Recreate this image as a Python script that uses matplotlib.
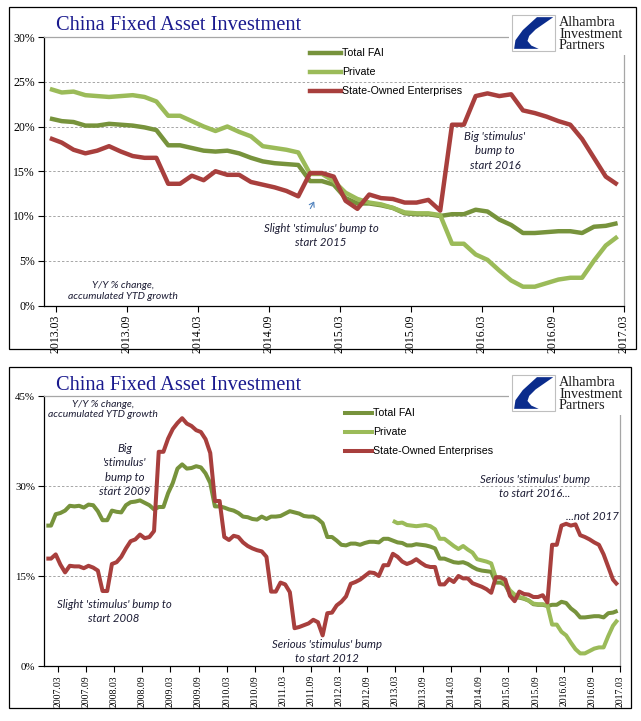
import matplotlib
matplotlib.use('Agg')
import matplotlib.pyplot as plt
from matplotlib.lines import Line2D
from matplotlib.patches import Rectangle, Polygon, FancyArrowPatch

W, H = 641, 721

# Y/Y % change, accumulated YTD growth
# monthly values Mar 2013 .. Mar 2017 (both charts)
recent_start = (2013, 3)
total_fai_recent = [20.9, 20.6, 20.5, 20.1, 20.1, 20.3, 20.2, 20.1, 19.9, 19.6,
                    17.9, 17.9, 17.6, 17.3, 17.2, 17.3, 17.0, 16.5, 16.1, 15.9, 15.8, 15.7,
                    13.9, 13.9, 13.5, 12.0, 11.4, 11.4, 11.2, 10.9, 10.3, 10.2, 10.2, 10.0,
                    10.2, 10.2, 10.7, 10.5, 9.6, 9.0, 8.1, 8.1, 8.2, 8.3, 8.3, 8.1,
                    8.8, 8.9, 9.2]
private_recent = [24.2, 23.8, 23.9, 23.5, 23.4, 23.3, 23.4, 23.5, 23.3, 22.8,
                  21.2, 21.2, 20.6, 20.0, 19.5, 20.0, 19.4, 18.9, 17.8, 17.6, 17.4, 17.1,
                  14.7, 14.7, 13.9, 12.6, 11.9, 11.5, 11.3, 10.9, 10.4, 10.3, 10.3, 10.1,
                  6.9, 6.9, 5.7, 5.1, 3.9, 2.8, 2.1, 2.1, 2.5, 2.9, 3.1, 3.1,
                  5.0, 6.7, 7.7]
soe_recent = [18.7, 18.2, 17.4, 17.0, 17.3, 17.8, 17.2, 16.7, 16.5, 16.5,
              13.6, 13.6, 14.5, 14.0, 15.0, 14.6, 14.6, 13.8, 13.5, 13.2, 12.8, 12.2,
              14.8, 14.8, 14.4, 11.7, 10.8, 12.4, 12.0, 11.9, 11.5, 11.5, 11.8, 10.6,
              20.2, 20.2, 23.4, 23.7, 23.4, 23.6, 21.8, 21.5, 21.1, 20.6, 20.2, 18.6,
              16.5, 14.4, 13.5]

# monthly values Jan 2007 .. Feb 2013 (long chart only)
early_start = (2007, 1)
total_fai_early = [23.4, 23.4, 25.3, 25.5, 25.9, 26.7, 26.6, 26.7, 26.4, 26.9, 26.8, 25.8,
                   24.3, 24.3, 25.9, 25.7, 25.6, 26.8, 27.3, 27.4, 27.6, 27.2, 26.8, 26.1,
                   26.5, 26.5, 28.8, 30.5, 32.9, 33.6, 32.9, 33.0, 33.3, 33.1, 32.1, 30.5,
                   26.6, 26.6, 26.4, 26.1, 25.9, 25.5, 24.9, 24.8, 24.5, 24.4, 24.9, 24.5,
                   24.9, 24.9, 25.0, 25.4, 25.8, 25.6, 25.4, 25.0, 24.9, 24.9, 24.5, 23.8,
                   21.5, 21.5, 20.9, 20.2, 20.1, 20.4, 20.4, 20.2, 20.5, 20.7, 20.7, 20.6,
                   21.2, 21.2]
soe_early = [17.9, 17.9, 18.6, 16.9, 15.6, 16.7, 16.6, 16.6, 16.3, 16.7, 16.4, 15.9,
             12.5, 12.5, 17.0, 17.3, 18.2, 19.6, 20.8, 21.1, 21.9, 21.3, 21.5, 22.5,
             35.7, 35.7, 37.9, 39.5, 40.5, 41.3, 40.4, 40.0, 39.3, 39.0, 37.8, 35.5,
             27.5, 27.5, 21.5, 21.0, 21.7, 21.5, 20.6, 20.0, 19.6, 19.3, 19.1, 18.2,
             12.4, 12.4, 13.9, 13.6, 12.3, 6.3, 6.5, 6.8, 7.1, 7.7, 7.3, 5.1,
             8.8, 8.9, 10.1, 10.7, 11.6, 13.7, 14.0, 14.4, 15.0, 15.6, 15.5, 15.0,
             16.8, 16.8]

top_tick_labels = ['2013.03', '2013.09', '2014.03', '2014.09', '2015.03',
                   '2015.09', '2016.03', '2016.09', '2017.03']
bottom_tick_labels = ['2007.03', '2007.09', '2008.03', '2008.09', '2009.03', '2009.09',
                      '2010.03', '2010.09', '2011.03', '2011.09', '2012.03', '2012.09',
                      '2013.03', '2013.09', '2014.03', '2014.09', '2015.03', '2015.09',
                      '2016.03', '2016.09', '2017.03']
top_yticks = [0, 5, 10, 15, 20, 25, 30]
bottom_yticks = [0, 15, 30, 45]

series_names = ['Total FAI', 'Private', 'State-Owned Enterprises']
series_colors = ['#77933C', '#9BBB59', '#A83F3D']

TITLE = 'China Fixed Asset Investment'
NOTE_COLOR = '#1c1c34'
SERIF = ['Liberation Serif', 'DejaVu Serif']
SANS = ['Liberation Sans', 'DejaVu Sans']
ITAL = ['Lato', 'DejaVu Sans']


def month_num(year, month):
    return year * 12 + (month - 1)


def label_month(label):
    y, m = label.split('.')
    return month_num(int(y), int(m))


def xs_for(start, values):
    # points sit half a month before the tick of their month
    m0 = month_num(*start)
    return [m0 + i - 0.5 for i in range(len(values))]


def fx(x):
    return x / W


def fy(y):
    return 1 - y / H


def rect(fig, x0, y0, x1, y1, **kw):
    r = Rectangle((fx(x0), fy(y1)), (x1 - x0) / W, (y1 - y0) / H,
                  transform=fig.transFigure, **kw)
    fig.patches.append(r)
    return r


def px_axes(fig, left, top, right, bottom):
    return fig.add_axes([fx(left), fy(bottom), (right - left) / W, (bottom - top) / H])


def note(fig, x, y, s, size=8.2, ls=1.3):
    fig.text(fx(x), fy(y), s, ha='center', va='center', fontsize=size,
             style='italic', color=NOTE_COLOR, family=ITAL, linespacing=ls)


def draw_logo(fig, top, right):
    # white backing of the logo picture hides the plot border
    rect(fig, 509, top - 6, right - 1.5, top + 40, facecolor='white', edgecolor='none', zorder=5)
    bx0, bx1, by0, by1 = 512, 555, top, top + 36
    rect(fig, bx0, by0, bx1, by1, facecolor='white', edgecolor='#BFBFBF', lw=0.8, zorder=6)
    bw, bh = bx1 - bx0, by1 - by0
    shape = [(0.58, 0.06), (0.96, 0.06), (0.55, 0.40), (0.40, 0.58), (0.36, 0.72),
             (0.45, 0.85), (0.62, 0.94), (0.05, 0.94), (0.08, 0.70), (0.25, 0.42)]
    pts = [(fx(bx0 + u * bw), fy(by0 + v * bh)) for u, v in shape]
    fig.patches.append(Polygon(pts, closed=True, facecolor='#0B2C8C', edgecolor='none',
                               transform=fig.transFigure, zorder=7))
    for k, word in enumerate(['Alhambra', 'Investment', 'Partners']):
        fig.text(fx(559), fy(top + 11 + k * 11.5), word, ha='left', va='baseline',
                 fontsize=10.3, family=SERIF, color='#1e1e1e', zorder=8)


def draw_panel(fig, box, ax_box, yticks, tick_labels, xlim, series, lw,
               xfs, yfs, legend_x, legend_rows):
    x0, y0, x1, y1 = box
    rect(fig, x0, y0, x1, y1, facecolor='none', edgecolor='black', lw=0.9, zorder=1)
    fig.text(fx(56), fy(y0 + 23), TITLE, ha='left', va='baseline', fontsize=14.7,
             family=SERIF, color='#1A1A8E')

    ax = px_axes(fig, *ax_box)
    for (xs, ys), c in zip(series, series_colors):
        ax.plot(xs, ys, color=c, lw=lw, solid_joinstyle='round', solid_capstyle='butt')
    ax.set_xlim(*xlim)
    ax.set_ylim(yticks[0], yticks[-1])
    ax.set_yticks(yticks)
    ax.set_yticklabels([f'{v}%' for v in yticks], fontsize=yfs, family=SERIF)
    ax.set_xticks([label_month(s) for s in tick_labels])
    ax.set_xticklabels(tick_labels, rotation=90, fontsize=xfs, family=SERIF)
    ax.tick_params(direction='out', length=4, width=0.8, pad=2.5)
    ax.yaxis.grid(True, color='#A6A6A6', ls=(0, (2.5, 2)), lw=0.7)
    ax.set_axisbelow(True)
    for side in ['left', 'bottom']:
        ax.spines[side].set_color('black')
        ax.spines[side].set_linewidth(0.9)
    for side in ['top', 'right']:
        ax.spines[side].set_color('#A6A6A6')
        ax.spines[side].set_linewidth(0.9)

    lx0, lx1 = legend_x
    for name, c, ry in zip(series_names, series_colors, legend_rows):
        fig.add_artist(Line2D([fx(lx0), fx(lx1)], [fy(ry), fy(ry)], color=c, lw=lw,
                              transform=fig.transFigure))
        fig.text(fx(lx1 + 1), fy(ry), name, ha='left', va='center', fontsize=7.7,
                 family=SANS, color='black')
    draw_logo(fig, y0 + 8, x1)
    return ax


fig = plt.figure(figsize=(W / 100, H / 100), dpi=100)
fig.patch.set_facecolor('white')

# ---- top chart: 2013-2017 ----
top_series = [(xs_for(recent_start, total_fai_recent), total_fai_recent),
              (xs_for(recent_start, private_recent), private_recent),
              (xs_for(recent_start, soe_recent), soe_recent)]
draw_panel(fig, (9, 7, 636, 349), (44, 37, 623.5, 305.5), top_yticks, top_tick_labels,
           (month_num(2013, 2), month_num(2017, 3)), top_series, 3.2, 8.5, 8.5,
           (310, 341), (53, 72, 91))
note(fig, 123, 291, "Y/Y % change,\naccumulated YTD growth", size=7.5, ls=1.2)
note(fig, 321, 235.5, "Slight 'stimulus' bump to\nstart 2015")
note(fig, 495, 151, "Big 'stimulus'\nbump to\nstart 2016", ls=1.35)
fig.add_artist(FancyArrowPatch(
    (fx(309), fy(211)), (fx(315.5), fy(199)), transform=fig.transFigure,
    arrowstyle='->,head_length=3,head_width=2', color='#4F81BD', lw=0.8))

# ---- bottom chart: 2007-2017 ----
bottom_series = [(xs_for(early_start, total_fai_early + total_fai_recent),
                  total_fai_early + total_fai_recent),
                 (xs_for(recent_start, private_recent), private_recent),
                 (xs_for(early_start, soe_early + soe_recent), soe_early + soe_recent)]
draw_panel(fig, (9, 367, 631, 708), (44, 396, 620, 666), bottom_yticks, bottom_tick_labels,
           (month_num(2006, 12), month_num(2017, 3)), bottom_series, 2.9, 7.0, 7.8,
           (345, 372), (413, 432, 451))
note(fig, 103, 409.5, "Y/Y % change,\naccumulated YTD growth", size=7.5, ls=1.2)
note(fig, 125, 470, "Big\n'stimulus'\nbump to\nstart 2009", ls=1.35)
note(fig, 114, 611.5, "Slight 'stimulus' bump to\nstart 2008")
note(fig, 327, 651.5, "Serious 'stimulus' bump\nto start 2012")
note(fig, 535, 486.5, "Serious 'stimulus' bump\nto start 2016...")
note(fig, 592.5, 516.5, "...not 2017")

fig.savefig('out.png', dpi=100, facecolor='white')
